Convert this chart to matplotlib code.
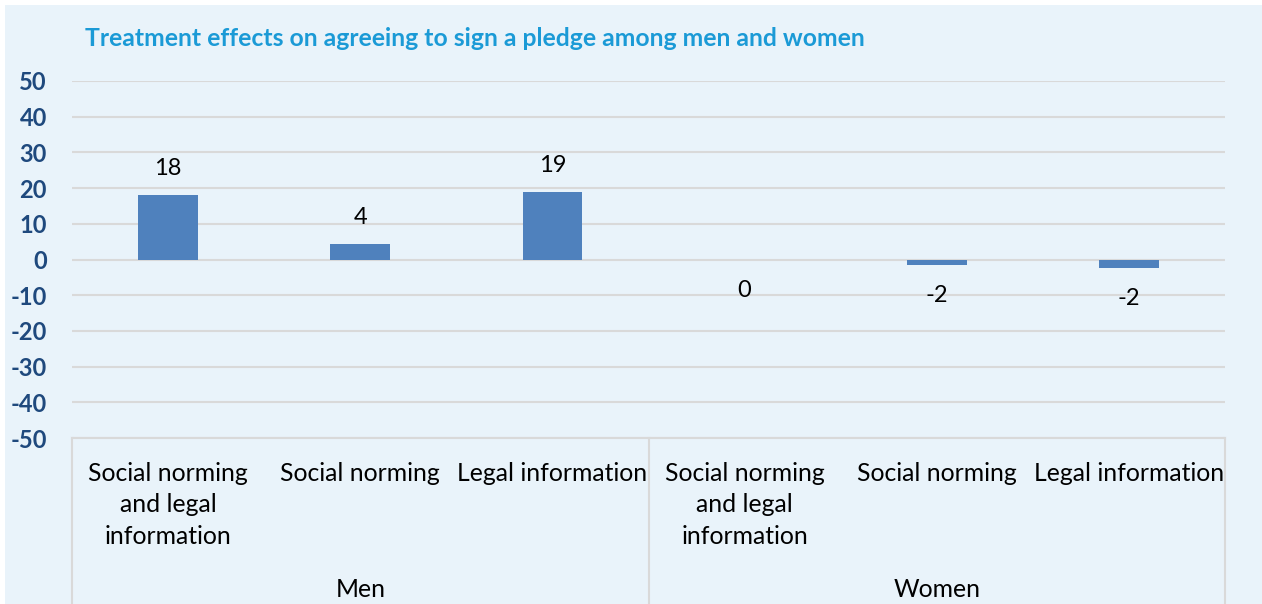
import matplotlib.pyplot as plt
from matplotlib.patches import Rectangle
from matplotlib.transforms import blended_transform_factory
import numpy as np

# Chart data
groups = ['Men', 'Women']
treatments = ['Social norming\nand legal\ninformation', 'Social norming', 'Legal information']
effects = [18.0, 4.3, 18.8, 0.0, -1.6, -2.4]
y_ticks = list(range(-50, 51, 10))

BG = '#E9F3FA'
BAR = '#4F81BD'
GRID = '#D9D9D9'
TICK = '#1F497D'
TITLE = '#1B9AD6'

plt.rcParams['font.family'] = ['Lato', 'DejaVu Sans']

fig = plt.figure(figsize=(12.62, 6.04), dpi=100, facecolor='white')
# light blue chart area with a thin white margin at the top and left
fig.patches.append(Rectangle((5 / 1262, 0), 1 - 5 / 1262, 1 - 5 / 604,
                             transform=fig.transFigure, facecolor=BG,
                             edgecolor='none', zorder=-10))

ax = fig.add_axes([72 / 1262, 166 / 604, (1225 - 72) / 1262, (523 - 166) / 604])
ax.set_facecolor('none')

labels = treatments * len(groups)
x = np.arange(len(effects))
ax.bar(x, effects, width=0.31, color=BAR, zorder=3)

ax.set_xlim(-0.5, len(effects) - 0.5)
ax.set_ylim(-50, 50)
ax.set_yticks(y_ticks)
ax.set_yticklabels([str(t) for t in y_ticks], fontsize=17, fontweight='bold',
                   color=TICK)
ax.yaxis.grid(True, color=GRID, linewidth=1.5, zorder=0)
ax.tick_params(axis='y', length=0, pad=18)

ax.set_xticks(x)
ax.set_xticklabels(labels, fontsize=17.8, linespacing=1.43, va='top')
ax.tick_params(axis='x', length=0, pad=17.5)

for side in ['top', 'right', 'left', 'bottom']:
    ax.spines[side].set_visible(False)

# value labels above positive bars, below zero/negative ones
for xi, v in zip(x, effects):
    off = 19 if v > 0 else -22
    ax.annotate(f'{v:.0f}', (xi, v), xytext=(0, off), textcoords='offset points',
                ha='center', va='center', fontsize=17, color='black')

# category box below the plot area
tr = blended_transform_factory(ax.transData, ax.transAxes)
ax.plot([-0.5, len(effects) - 0.5], [0, 0], transform=tr, color=GRID,
        linewidth=1.5, clip_on=False)
n = len(treatments)
for k in range(len(groups) + 1):
    xs = k * n - 0.5
    ax.plot([xs, xs], [0, -0.48], transform=tr, color=GRID, linewidth=1.5,
            clip_on=False)
for k, g in enumerate(groups):
    ax.text(k * n + (n - 1) / 2, -0.425, g, transform=tr, ha='center',
            va='center', fontsize=17.8)

fig.text(85 / 1262, 1 - 39 / 604, 'Treatment effects on agreeing to sign a pledge among men and women',
         color=TITLE, fontsize=17.8, fontweight='bold', va='center', ha='left')

fig.savefig('out.png', dpi=100, facecolor='white')
